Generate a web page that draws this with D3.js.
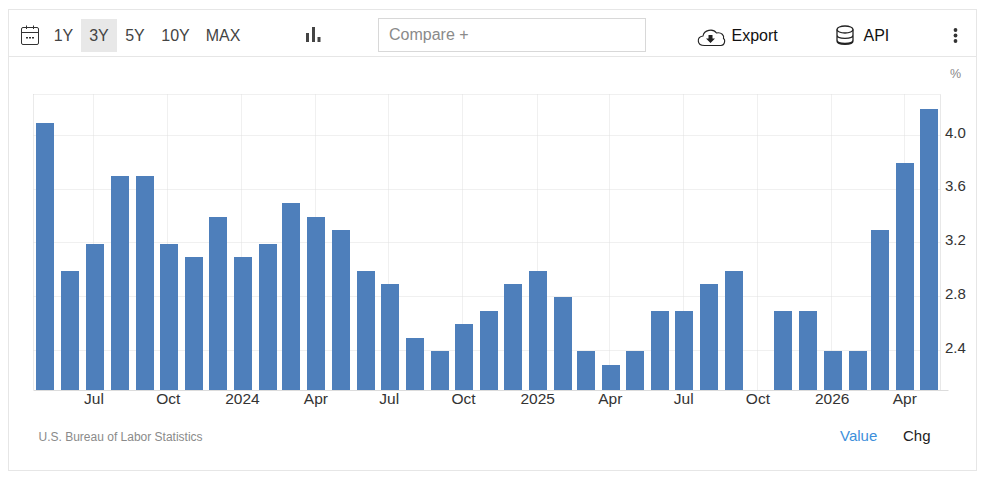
<!DOCTYPE html>
<html><head><meta charset="utf-8">
<script src="https://cdn.jsdelivr.net/npm/d3@7"></script>
<style>
html,body{margin:0;padding:0;background:#fff;overflow:hidden}
svg{display:block}
text{font-family:"Liberation Sans",Arial,sans-serif}
</style></head><body><svg id="c" width="983" height="478"></svg>
<script>
const months = ["2023-05","2023-06","2023-07","2023-08","2023-09","2023-10","2023-11","2023-12","2024-01","2024-02","2024-03","2024-04","2024-05","2024-06","2024-07","2024-08","2024-09","2024-10","2024-11","2024-12","2025-01","2025-02","2025-03","2025-04","2025-05","2025-06","2025-07","2025-08","2025-09","2025-10","2025-11","2025-12","2026-01","2026-02","2026-03","2026-04","2026-05"];
const values = [4.1,3.0,3.2,3.7,3.7,3.2,3.1,3.4,3.1,3.2,3.5,3.4,3.3,3.0,2.9,2.5,2.4,2.6,2.7,2.9,3.0,2.8,2.4,2.3,2.4,2.7,2.7,2.9,3.0,null,2.7,2.7,2.4,2.4,3.3,3.8,4.2];
const yTicks = [2.4,2.8,3.2,3.6,4.0];
const xTickMonths = ["2023-07","2023-10","2024-01","2024-04","2024-07","2024-10","2025-01","2025-04","2025-07","2025-10","2026-01","2026-04"];
const ranges = ["1Y","3Y","5Y","10Y","MAX"];
const source = "U.S. Bureau of Labor Statistics";

const parse = d3.utcParse("%Y-%m");
const svg = d3.select("#c");
const L=33.5,R=940.5,T=94.5,B=390;
const x = d3.scaleUtc().domain([new Date(Date.UTC(2023,3,17)),new Date(Date.UTC(2026,4,15))]).range([L,940.25]);
const y = d3.scaleLinear().domain([2.4,4.2]).range([351,109]);
const ln=(x1,y1,x2,y2,c,dash)=>{const l=svg.append("line").attr("x1",x1).attr("y1",y1).attr("x2",x2).attr("y2",y2).attr("stroke",c);if(dash)l.attr("stroke-dasharray",dash);return l;};
const tx=(s,px,py,size,fill,anchor)=>svg.append("text").attr("x",px).attr("y",py).attr("font-size",size).attr("fill",fill).attr("text-anchor",anchor||"start").text(s);

// frame
svg.append("rect").attr("x",8.5).attr("y",9.5).attr("width",968).attr("height",461).attr("fill","#fff").attr("stroke","#e6e6e6");
ln(9,56.5,976,56.5,"#e6e6e6");

// calendar icon
const cal=svg.append("g").attr("fill","none").attr("stroke","#333").attr("stroke-width",1);
cal.append("rect").attr("x",21.5).attr("y",27.5).attr("width",17).attr("height",17).attr("rx",1.5);
cal.append("path").attr("d","M22 32.5H38M26.5 25.5V29M33.5 25.5V29");
svg.append("path").attr("d","M26 37h2v1.5h-2zM29 37h2v1.5h-2zM32 37h2v1.5h-2z").attr("fill","#333");

// range buttons
svg.append("rect").attr("x",81).attr("y",19).attr("width",36).attr("height",33).attr("fill","#e8e8e8");
const rangeX=[63.5,99,135,175.5,223];
ranges.forEach((r,i)=>tx(r,rangeX[i],41,16,"#444","middle"));

// chart-type icon
svg.append("path").attr("d","M306 33h3v9h-3zM312 27h3v15h-3zM317.500 37h3v5h-3z").attr("fill","#444");

// compare box
svg.append("rect").attr("x",378.5).attr("y",18.5).attr("width",267).attr("height",33).attr("fill","#fff").attr("stroke","#d8d8d8");
tx("Compare +",389,40,16,"#8a8a8a");

// export icon and label
svg.append("path").attr("d","M706 45.5h-1.5c-8 0-8-8.500-1.500-9.500c1-6 10-8 13.500-3c5-1 8 2.500 7 5.500c2 1 1.500 7-2.500 7z").attr("fill","none").attr("stroke","#222").attr("stroke-width",1.1);
svg.append("path").attr("d","M708.500 35h4v3.500h2.500l-4.500 4.500l-4.500-4.500h2.500z").attr("fill","#222");
tx("Export",731.500,41,16,"#111");

// API icon and label
const db=svg.append("g").attr("fill","none").attr("stroke","#222").attr("stroke-width",1.3);
db.append("ellipse").attr("cx",845).attr("cy",29.500).attr("rx",8).attr("ry",3.500);
db.append("path").attr("d","M837 29.500V41c0 4.500 16 4.500 16 0V29.500M837 35c0 4.500 16 4.500 16 0M837 40c0 4.500 16 4.500 16 0");
tx("API",863.500,41,16,"#111");

// menu dots
svg.append("g").attr("fill","#333").selectAll("circle").data([30,35.500,41]).join("circle").attr("cx",955.500).attr("cy",d=>d).attr("r",1.900);

// unit
tx("%",950,78,12.500,"#888");

// grid
const xTickDates=xTickMonths.map(parse);
const gridColor="#e0e0e0",dash="1,1";
ln(L,T,R,T,gridColor,dash);
ln(L,T,L,B,"#d4d4d4",dash);
ln(R,T,R,B,"#e8e8e8");
yTicks.forEach(v=>{const p=Math.round(y(v))-.5;ln(L,p,R,p,gridColor,dash);});
xTickDates.forEach(d=>{const p=Math.round(x(d))-.5;ln(p,T,p,B,gridColor,dash);});

// bars
const data=months.map((m,i)=>({date:parse(m),value:values[i]})).filter(d=>d.value!==null);
const barW=18;
svg.append("g").attr("fill","#4e7fbb").selectAll("rect").data(data).join("rect")
 .attr("x",d=>Math.round(x(d.date)-barW/2+.5)).attr("width",barW)
 .attr("y",d=>Math.round(y(d.value)+.2)).attr("height",d=>B-Math.round(y(d.value)+.2));

// baseline
ln(L,B+.5,R+8,B+.5,"#dcdcdc");

// axes
const xAxis=d3.axisBottom(x).tickValues(xTickDates).tickSize(0).tickPadding(0)
 .tickFormat(d=>d.getUTCMonth()===0?d3.utcFormat("%Y")(d):d3.utcFormat("%b")(d));
const gx=svg.append("g").attr("transform",`translate(-0.5,${B})`).call(xAxis);
gx.select(".domain").remove();
gx.selectAll("text").attr("y",0).attr("dy",14).attr("font-size",15.500).attr("fill","#333").attr("font-family",'"Liberation Sans",Arial,sans-serif');

const yAxis=d3.axisRight(y).tickValues(yTicks).tickSize(0).tickPadding(0).tickFormat(d3.format(".1f"));
const gy=svg.append("g").attr("transform",`translate(945,0)`).call(yAxis);
gy.select(".domain").remove();
gy.selectAll("text").attr("x",0).attr("dy",1.300).attr("font-size",15).attr("fill","#333").attr("font-family",'"Liberation Sans",Arial,sans-serif');

// footer
tx(source,38.500,441,12,"#8a8a8a");
tx("Value",840,441,15,"#3d8fdb");
tx("Chg",903,441,15,"#222");
</script></body></html>
